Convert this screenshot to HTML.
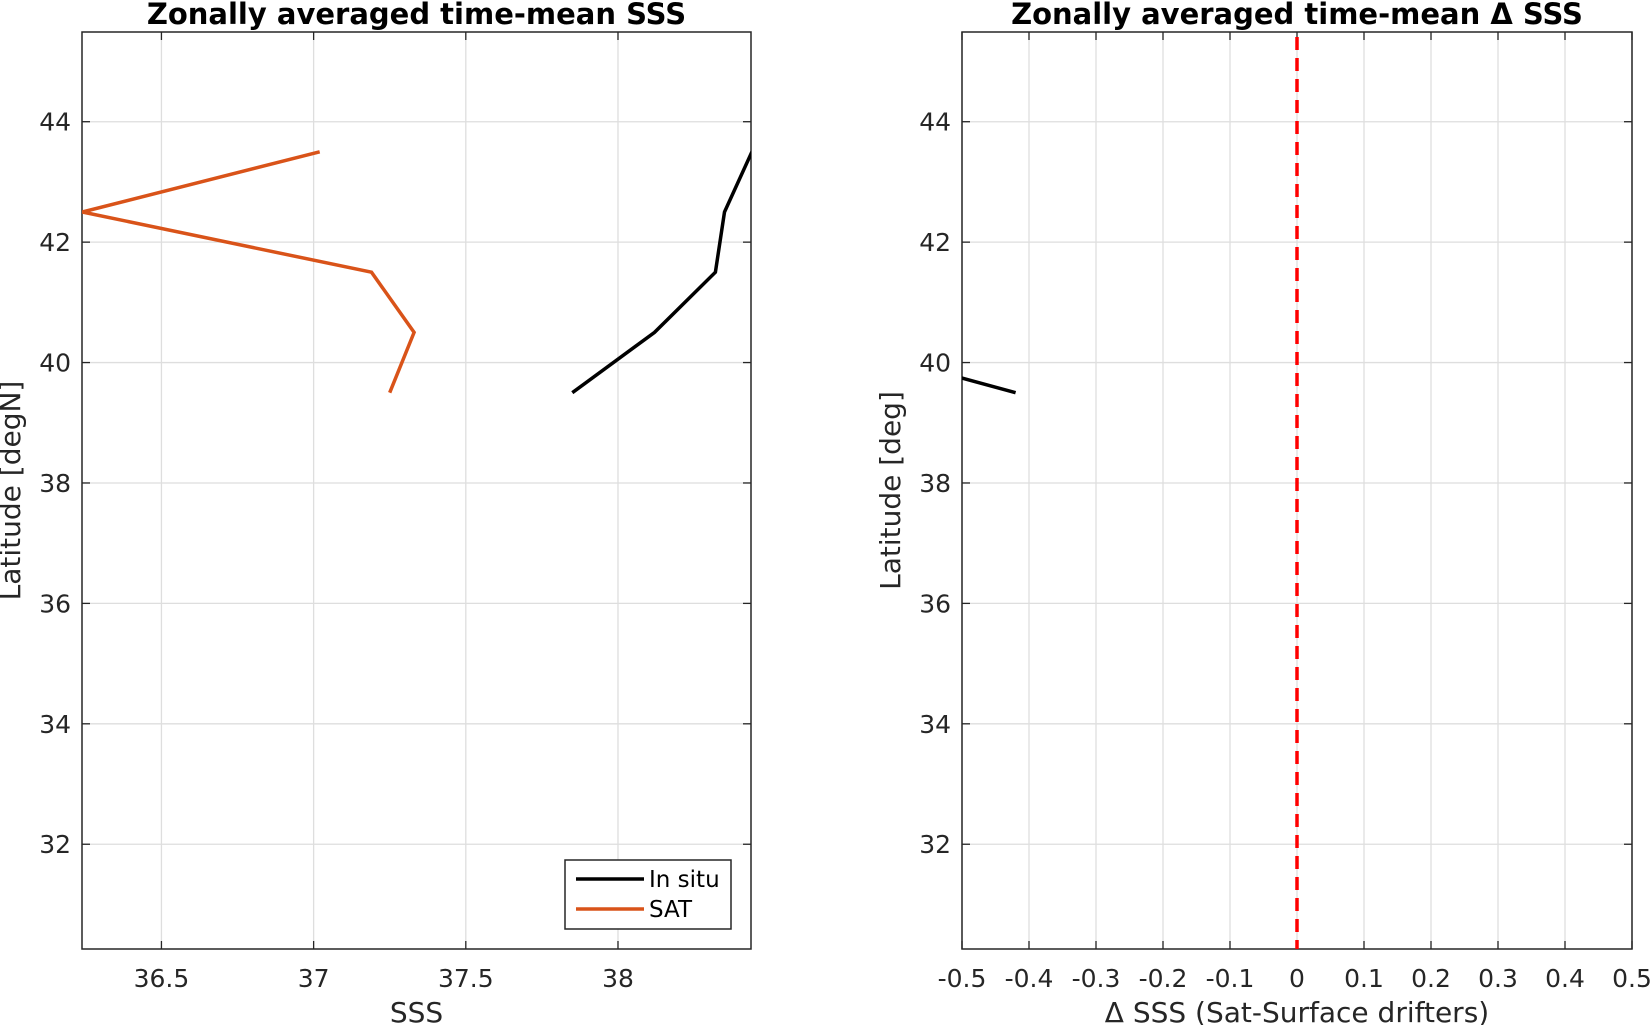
<!DOCTYPE html>
<html><head><meta charset="utf-8"><style>
body{margin:0;background:#fff;}
svg{display:block;font-family:"DejaVu Sans","Liberation Sans",sans-serif;}
.tick{font-size:25px;fill:#262626;}
.leg{font-size:23px;fill:#000;}
.lab{font-size:28px;fill:#262626;}
.title{font-size:29px;font-weight:bold;fill:#000;}
</style></head><body>
<svg id="fig" width="1651" height="1025" viewBox="0 0 1651 1025">
<defs>
<clipPath id="clipL"><rect x="82" y="32" width="669" height="917"/></clipPath>
<clipPath id="clipR"><rect x="962" y="32" width="670" height="917"/></clipPath>
</defs>
<g id="gL"></g>
<g id="gR"></g>
</svg>
<script>
const lats = [43.5, 42.5, 41.5, 40.5, 39.5];
const insitu = [38.44, 38.35, 38.32, 38.12, 37.85];
const sat = [37.02, 36.24, 37.19, 37.33, 37.25];
const delta = [-1.42, -2.1, -1.13, -0.75, -0.42];
const yTicks = [32, 34, 36, 38, 40, 42, 44];
const xTicksL = [36.5, 37, 37.5, 38];
const xTickLabelsL = ["36.5", "37", "37.5", "38"];
const xTicksR = [-0.5, -0.4, -0.3, -0.2, -0.1, 0, 0.1, 0.2, 0.3, 0.4, 0.5];
const xTickLabelsR = ["-0.5", "-0.4", "-0.3", "-0.2", "-0.1", "0", "0.1", "0.2", "0.3", "0.4", "0.5"];
const yLim = [30.26, 45.49];
const NS = "http://www.w3.org/2000/svg";
function mk(tag, attrs, parent) {
  const e = document.createElementNS(NS, tag);
  for (const k in attrs) e.setAttribute(k, attrs[k]);
  parent.appendChild(e);
  return e;
}
function panel(g, ax, xLim, xTicks, xLabels, title, xlab, ylab) {
  const sx = v => ax.x0 + (v - xLim[0]) / (xLim[1] - xLim[0]) * (ax.x1 - ax.x0);
  const sy = v => ax.y1 - (v - yLim[0]) / (yLim[1] - yLim[0]) * (ax.y1 - ax.y0);
  mk("rect", {x: ax.x0, y: ax.y0, width: ax.x1 - ax.x0, height: ax.y1 - ax.y0, fill: "#fff"}, g);
  xTicks.forEach((t, i) => {
    const x = sx(t);
    const gl = mk("line", {x1: x, x2: x, y1: ax.y0, y2: ax.y1, stroke: "#dedede", "stroke-width": 1.3}, g);
    
    
    mk("line", {x1: x, x2: x, y1: ax.y1, y2: ax.y1 - 8, stroke: "#262626", "stroke-width": 1.3}, g);
    mk("line", {x1: x, x2: x, y1: ax.y0, y2: ax.y0 + 8, stroke: "#262626", "stroke-width": 1.3}, g);
    const tl = mk("text", {x: x, y: ax.y1 + 38, "text-anchor": "middle", class: "tick"}, g);
    tl.textContent = xLabels[i];
    
    
  });
  yTicks.forEach(t => {
    const y = sy(t);
    const gl = mk("line", {x1: ax.x0, x2: ax.x1, y1: y, y2: y, stroke: "#dedede", "stroke-width": 1.3}, g);
    
    
    mk("line", {x1: ax.x0, x2: ax.x0 + 8, y1: y, y2: y, stroke: "#262626", "stroke-width": 1.3}, g);
    mk("line", {x1: ax.x1, x2: ax.x1 - 8, y1: y, y2: y, stroke: "#262626", "stroke-width": 1.3}, g);
    const tl = mk("text", {x: ax.x0 - 11, y: y + 9, "text-anchor": "end", class: "tick"}, g);
    tl.textContent = String(t);
    
    
  });
  const fr = mk("rect", {x: ax.x0, y: ax.y0, width: ax.x1 - ax.x0, height: ax.y1 - ax.y0, fill: "none", stroke: "#262626", "stroke-width": 1.5}, g);
  
  
  const tt = mk("text", {x: (ax.x0 + ax.x1) / 2, y: 24, "text-anchor": "middle", class: "title"}, g);
  tt.textContent = title;
  
  
  const xl = mk("text", {x: (ax.x0 + ax.x1) / 2, y: ax.y1 + 73, "text-anchor": "middle", class: "lab"}, g);
  xl.textContent = xlab;
  
  
  const cy = (ax.y0 + ax.y1) / 2;
  const yl = mk("text", {x: ax.x0 - 62, y: cy, "text-anchor": "middle", class: "lab", transform: "rotate(-90 " + (ax.x0 - 62) + " " + cy + ")"}, g);
  yl.textContent = ylab;
  
  
  return {sx, sy};
}
function series(g, vals, sx, sy, color, clip, name) {
  const pts = vals.map((v, i) => sx(v).toFixed(1) + "," + sy(lats[i]).toFixed(1)).join(" ");
  const p = mk("polyline", {points: pts, fill: "none", stroke: color, "stroke-width": 3.5, "stroke-linejoin": "miter", "clip-path": clip}, g);
  
  
}
const gL = document.getElementById("gL");
const L = panel(gL, {x0: 82, x1: 751, y0: 32, y1: 949}, [36.239, 38.437], xTicksL, xTickLabelsL,
  "Zonally averaged time-mean SSS", "SSS", "Latitude [degN]");
series(gL, insitu, L.sx, L.sy, "#000", "url(#clipL)", "in-situ-line");
series(gL, sat, L.sx, L.sy, "#d95319", "url(#clipL)", "sat-line");
const lg = mk("g", {}, gL);


mk("rect", {x: 565, y: 860, width: 166, height: 69, fill: "#fff", stroke: "#262626", "stroke-width": 1.5}, lg);
mk("line", {x1: 576, x2: 644, y1: 879, y2: 879, stroke: "#000", "stroke-width": 3.5}, lg);
mk("line", {x1: 576, x2: 644, y1: 909, y2: 909, stroke: "#d95319", "stroke-width": 3.5}, lg);
const t1 = mk("text", {x: 649, y: 887, class: "leg"}, lg);
t1.textContent = "In situ";


const t2 = mk("text", {x: 649, y: 917, class: "leg"}, lg);
t2.textContent = "SAT";



const gR = document.getElementById("gR");
const R = panel(gR, {x0: 962, x1: 1632, y0: 32, y1: 949}, [-0.5, 0.5], xTicksR, xTickLabelsR,
  "Zonally averaged time-mean \u0394 SSS", "\u0394 SSS (Sat-Surface drifters)", "Latitude [deg]");
series(gR, delta, R.sx, R.sy, "#000", "url(#clipR)", "delta-sss-line");
const zl = mk("line", {x1: R.sx(0), x2: R.sx(0), y1: 37, y2: 949, stroke: "#ff0000", "stroke-width": 3.5, "stroke-dasharray": "13,8"}, gR);


</script>
</body></html>
